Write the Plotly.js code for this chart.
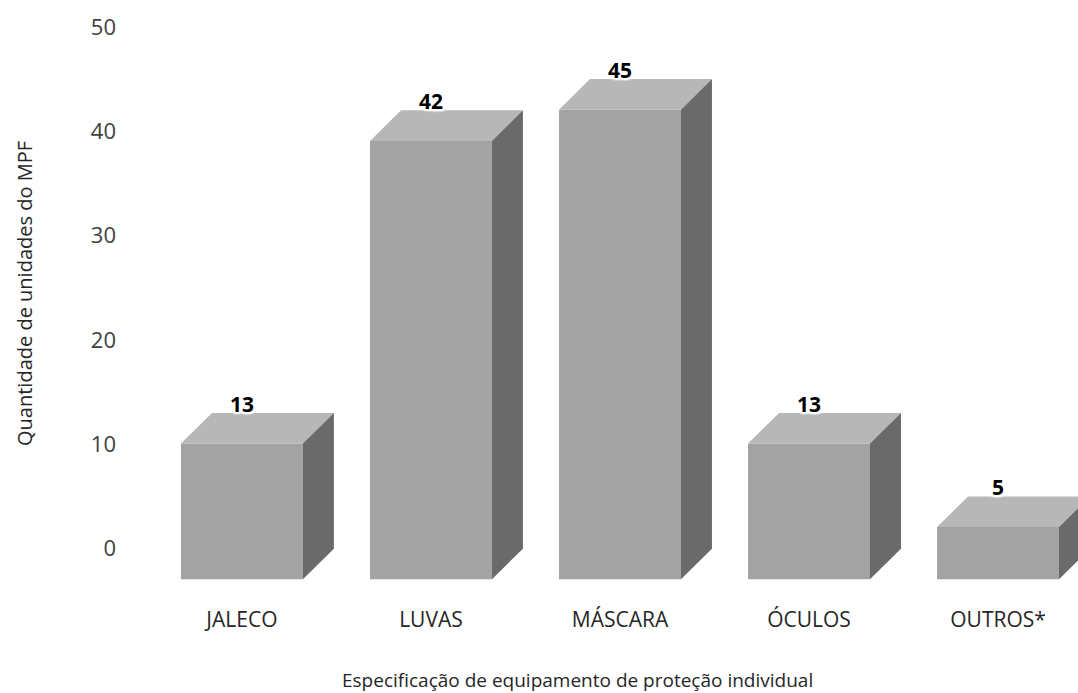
<!DOCTYPE html>
<html>
<head>
<meta charset="utf-8">
<script src="https://cdn.plot.ly/plotly-3.0.1.min.js"></script>
<style>
  html, body { margin: 0; padding: 0; background: #ffffff; }
  #chart { width: 1078px; height: 693px; }
</style>
</head>
<body>
<div id="chart"></div>
<script>
// Equipment categories and counts
const categories = ["JALECO", "LUVAS", "MÁSCARA", "ÓCULOS", "OUTROS*"];
const values = [13, 42, 45, 13, 5];
const yTickValues = [0, 10, 20, 30, 40, 50];
const xTitle = "Especificação de equipamento de proteção individual";
const yTitle = "Quantidade de unidades do MPF";

// Pseudo-3D box geometry (in axis units)
const barWidth = 0.645;   // front face width
const depthX = 0.164;     // horizontal depth offset
const depthY = 2.93;      // vertical depth offset

const xs = categories.map((_, i) => i);

// Front faces: bars that start below zero by the depth offset
const front = {
  type: "bar",
  x: xs,
  y: values,
  base: values.map(() => -depthY),
  width: barWidth,
  marker: { color: "#a3a3a3", line: { width: 0 } },
  hoverinfo: "skip"
};

// Top and side faces as filled polygons built from the values
const topX = [], topY = [], sideX = [], sideY = [];
values.forEach((v, i) => {
  const l = i - barWidth / 2, r = i + barWidth / 2;
  const yf = v - depthY;
  topX.push(l, r, r + depthX, l + depthX, l, null);
  topY.push(yf, yf, v, v, yf, null);
  sideX.push(r, r + depthX, r + depthX, r, r, null);
  sideY.push(-depthY, 0, v, yf, -depthY, null);
});

const topFace = {
  type: "scatter", mode: "lines", x: topX, y: topY,
  fill: "toself", fillcolor: "#b7b7b7",
  line: { width: 0, color: "#b7b7b7" }, hoverinfo: "skip"
};
const sideFace = {
  type: "scatter", mode: "lines", x: sideX, y: sideY,
  fill: "toself", fillcolor: "#6a6a6a",
  line: { width: 0, color: "#6a6a6a" }, hoverinfo: "skip"
};

// Value labels sitting on the back edge of each top face, with a white halo
const halo = "2px 0 1px #fff, -2px 0 1px #fff, 0 2px 1px #fff, 0 -2px 1px #fff, " +
             "2px 2px 2px #fff, -2px -2px 2px #fff, 2px -2px 2px #fff, -2px 2px 2px #fff";
const labels = values.map((v, i) => ({
  x: i, y: v, xref: "x", yref: "y",
  text: String(v), showarrow: false,
  yanchor: "middle", yshift: 9,
  font: { family: "Open Sans, sans-serif", size: 21, color: "#000", weight: "bold", shadow: halo }
}));

// Horizontal axis caption, placed under the category labels
labels.push({
  xref: "paper", yref: "paper", x: 0.474, y: -0.172,
  xanchor: "center", yanchor: "middle", showarrow: false,
  text: xTitle,
  font: { family: "Open Sans, sans-serif", size: 19, color: "#262626" }
});

const layout = {
  width: 1078, height: 693,
  margin: { l: 127, r: 0, t: 6, b: 112 },
  paper_bgcolor: "#ffffff", plot_bgcolor: "#ffffff",
  showlegend: false,
  font: { family: "Open Sans, sans-serif", color: "#404040" },
  xaxis: {
    range: [-0.608, 4.423],
    tickvals: xs, ticktext: categories,
    showgrid: false, zeroline: false, showline: false, ticks: "",
    tickfont: { size: 21, color: "#262626" },
    ticklabelstandoff: 24
  },
  yaxis: {
    range: [-3.1, 52],
    tickvals: yTickValues,
    showgrid: false, zeroline: false, showline: false, ticks: "",
    tickfont: { size: 22, color: "#404040" },
    ticklabelstandoff: 10,
    title: { text: yTitle,
             font: { size: 20, color: "#262626" }, standoff: 52 }
  },
  annotations: labels
};

Plotly.newPlot("chart", [front, topFace, sideFace], layout, { displayModeBar: false, staticPlot: true });
</script>
</body>
</html>
